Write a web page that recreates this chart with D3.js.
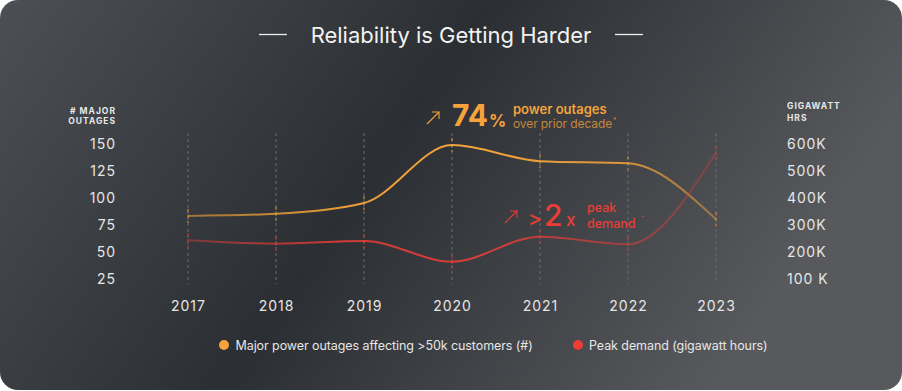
<!DOCTYPE html>
<html><head><meta charset="utf-8">
<script src="https://cdn.jsdelivr.net/npm/d3@7"></script>
<style>
html,body{margin:0;padding:0;background:#fff;}
svg{display:block;font-family:Inter,"Noto Sans",sans-serif;}
</style></head>
<body><svg id="chart" width="902" height="391"></svg>
<script>
const years = [2017, 2018, 2019, 2020, 2021, 2022, 2023];
const outages = [83, 85, 95, 149, 134, 132, 80];
const peakDemand = [242, 229, 239, 162, 255, 227, 566]; // thousand GWh
const leftTicks = [25, 50, 75, 100, 125, 150];
const rightTicks = [100, 200, 300, 400, 500, 600];
const rightTickLabels = ["100 K", "200K", "300K", "400K", "500K", "600K"];
const title = "Reliability is Getting Harder";
const legendLabels = ["Major power outages affecting >50k customers (#)", "Peak demand (gigawatt hours)"];

const W = 902, H = 391;
const ORANGE = "#f5a33a", RED = "#ea3d36";
const svg = d3.select("#chart");
const defs = svg.append("defs");

const bg = defs.append("linearGradient").attr("id","bg").attr("x1","0").attr("y1","0").attr("x2","1").attr("y2","0.3");
[[0,"#4c4f53"],[0.5,"#2b2e32"],[1,"#57595d"]].forEach(([o,c])=>bg.append("stop").attr("offset",o).attr("stop-color",c));
svg.append("rect").attr("x",0).attr("y",0).attr("width",W).attr("height",390).attr("rx",18).attr("fill","url(#bg)");

const x = d3.scalePoint().domain(years).range([188, 716]);
const yL = d3.scaleLinear().domain([25,150]).range([278.3,144]);
const yR = d3.scaleLinear().domain([100,600]).range([278.3,144]);

// title
svg.append("text").attr("x",451).attr("y",43).attr("text-anchor","middle").attr("fill","#f2f2f2")
  .attr("font-size",22).text(title);
svg.append("line").attr("x1",259).attr("x2",287).attr("y1",34.5).attr("y2",34.5).attr("stroke","#eee").attr("stroke-width",1.3);
svg.append("line").attr("x1",615).attr("x2",643).attr("y1",34.5).attr("y2",34.5).attr("stroke","#eee").attr("stroke-width",1.3);

// axis titles
const at = svg.append("g").attr("fill","#e8e8e8").attr("font-size",8.5).attr("font-weight",700).attr("letter-spacing","1");
at.append("text").attr("x",116).attr("y",114).attr("text-anchor","end").text("# MAJOR");
at.append("text").attr("x",116).attr("y",124).attr("text-anchor","end").text("OUTAGES");
at.append("text").attr("x",787).attr("y",109).text("GIGAWATT");
at.append("text").attr("x",787).attr("y",121).text("HRS");

// axes
const gL = svg.append("g").attr("transform","translate(116,0)")
  .call(d3.axisLeft(yL).tickValues(leftTicks).tickSize(0).tickPadding(0));
const gR = svg.append("g").attr("transform","translate(787,0)")
  .call(d3.axisRight(yR).tickValues(rightTicks).tickSize(0).tickPadding(0).tickFormat((d,i)=>rightTickLabels[i]));
const gX = svg.append("g").attr("transform","translate(0,311)")
  .call(d3.axisBottom(x).tickSize(0).tickPadding(0));
[gL,gR,gX].forEach(g=>{
  g.select(".domain").remove();
  g.selectAll("text").attr("fill","#e6e6e6").attr("font-size",14).attr("letter-spacing","1").attr("font-family","Inter,sans-serif");
});
gL.selectAll("text").attr("dy","0.35em");
gR.selectAll("text").attr("dy","0.35em");
gX.selectAll("text").attr("dy","0");

// dashed grid
svg.append("g").selectAll("line").data(years).join("line")
  .attr("x1",d=>x(d)).attr("x2",d=>x(d)).attr("y1",133).attr("y2",284)
  .attr("stroke","#6a6d71").attr("stroke-width",1).attr("stroke-dasharray","3,3");

// colored dash at points
function pointDashes(vals, sc, col){
  svg.append("g").selectAll("line").data(years).join("line")
    .attr("x1",d=>x(d)).attr("x2",d=>x(d))
    .attr("y1",(d,i)=>sc(vals[i])-7).attr("y2",(d,i)=>sc(vals[i])+7)
    .attr("stroke",col).attr("stroke-width",1.2).attr("stroke-dasharray","3,3");
}

// line gradients
function grad(id,col,stops){
  const g = defs.append("linearGradient").attr("id",id).attr("gradientUnits","userSpaceOnUse")
    .attr("x1",x(years[0])).attr("x2",x(years[years.length-1])).attr("y1",0).attr("y2",0);
  stops.forEach(([o,a])=>g.append("stop").attr("offset",o).attr("stop-color",col).attr("stop-opacity",a));
}
grad("gO",ORANGE,[[0,0.55],[0.3,0.95],[0.55,1],[0.82,0.85],[1,0.45]]);
grad("gR",RED,[[0,0.4],[0.28,0.85],[0.55,0.9],[0.8,0.55],[1,0.3]]);

const lineL = d3.line().x((d,i)=>x(years[i])).y(d=>yL(d)).curve(d3.curveMonotoneX);
const lineR = d3.line().x((d,i)=>x(years[i])).y(d=>yR(d)).curve(d3.curveMonotoneX);
pointDashes(outages, yL, "#c98a35");
pointDashes(peakDemand, yR, "#c53a35");
svg.append("path").datum(outages).attr("d",lineL).attr("fill","none").attr("stroke","url(#gO)").attr("stroke-width",2);
svg.append("path").datum(peakDemand).attr("d",lineR).attr("fill","none").attr("stroke","url(#gR)").attr("stroke-width",2);

// annotations
function arrow(x0,y0,x1,y1,col){
  const g = svg.append("g").attr("stroke",col).attr("stroke-width",1.1).attr("fill","none");
  g.append("line").attr("x1",x0).attr("y1",y0).attr("x2",x1).attr("y2",y1);
  g.append("polyline").attr("points",`${x1-7},${y1} ${x1},${y1} ${x1},${y1+7}`);
}
arrow(427,124,439,112,ORANGE);
svg.append("text").attr("x",452).attr("y",126).attr("fill",ORANGE).attr("font-size",30).attr("font-weight",700).text("74");
svg.append("text").attr("x",489).attr("y",127).attr("fill",ORANGE).attr("font-size",17).attr("font-weight",700).text("%");
svg.append("text").attr("x",513).attr("y",114).attr("fill",ORANGE).attr("font-size",13).attr("font-weight",600).text("power outages");
svg.append("text").attr("x",513).attr("y",128).attr("fill","#c4873c").attr("font-size",12).attr("letter-spacing","-0.1").text("over prior decade");
svg.append("text").attr("x",613).attr("y",123).attr("fill","#c4873c").attr("font-size",7).text("*");

arrow(505,223,517,211,RED);
svg.append("text").attr("x",528).attr("y",226).attr("fill",RED).attr("font-size",21).attr("font-weight",500).text(">");
svg.append("text").attr("x",544).attr("y",226).attr("fill",RED).attr("font-size",30).attr("font-weight",500).text("2");
svg.append("text").attr("x",566).attr("y",226).attr("fill",RED).attr("font-size",17).attr("font-weight",500).text("x");
svg.append("text").attr("x",587).attr("y",212).attr("fill",RED).attr("font-size",12.5).attr("font-weight",500).text("peak");
svg.append("text").attr("x",587).attr("y",228).attr("fill",RED).attr("font-size",12.5).attr("font-weight",500).text("demand");
svg.append("text").attr("x",640).attr("y",222).attr("fill",RED).attr("font-size",8).text("\u00a8");

// legend
const lg = svg.append("g").attr("font-size",12.5).attr("fill","#e6e6e6");
lg.append("circle").attr("cx",224).attr("cy",345).attr("r",5).attr("fill",ORANGE);
lg.append("text").attr("x",235.5).attr("y",349.5).attr("letter-spacing","-0.08").text(legendLabels[0]);
lg.append("circle").attr("cx",578).attr("cy",345).attr("r",5).attr("fill",RED);
lg.append("text").attr("x",589).attr("y",349.5).attr("letter-spacing","-0.08").text(legendLabels[1]);
</script></body></html>
